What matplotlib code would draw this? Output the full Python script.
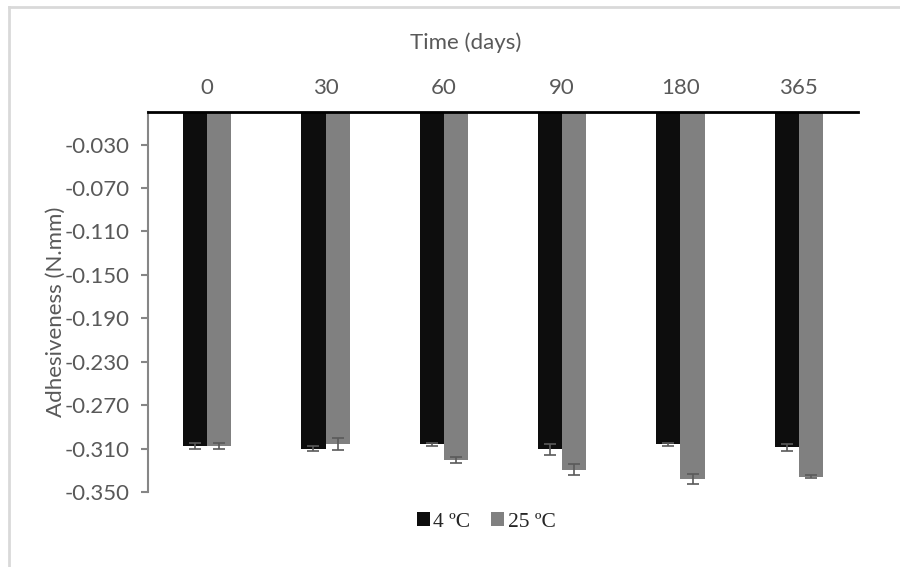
import matplotlib
matplotlib.use("Agg")
import matplotlib.pyplot as plt
from matplotlib.lines import Line2D
from matplotlib.patches import Patch
import numpy as np

# Storage time and adhesiveness measurements
days = ["0", "30", "60", "90", "180", "365"]
adh_4c = [-0.3077, -0.3100, -0.3060, -0.3106, -0.3060, -0.3090]
err_4c = [0.0025, 0.0020, 0.0012, 0.0050, 0.0015, 0.0028]
adh_25c = [-0.3077, -0.3060, -0.3205, -0.3295, -0.3380, -0.3360]
err_25c = [0.0025, 0.0055, 0.0028, 0.0052, 0.0050, 0.0015]
series_names = ["4 \u00baC", "25 \u00baC"]
yticks = [-0.35, -0.31, -0.27, -0.23, -0.19, -0.15, -0.11, -0.07, -0.03]

W, H = 900, 567
fig = plt.figure(figsize=(W / 100, H / 100), dpi=100)
ax = fig.add_axes([148 / W, 1 - 492 / H, (858 - 148) / W, (492 - 112) / H])

txt_color = "#595959"
font = "Lato"
fs = 16
x = np.arange(len(days))
w = 0.203
err_kw = dict(ecolor="#5a5a5a", elinewidth=1.2, capsize=4, capthick=1.2)
ax.bar(x - w / 2, adh_4c, width=w, color="#0d0d0d", yerr=err_4c,
       error_kw=err_kw, zorder=2)
ax.bar(x + w / 2, adh_25c, width=w, color="#808080", yerr=err_25c,
       error_kw=err_kw, zorder=2)

ax.set_xlim(-0.5, len(days) - 0.5)
ax.set_ylim(-0.35, 0.0)

# Category axis sits at the top (value zero)
ax.xaxis.tick_top()
ax.set_xticks(x)
ax.set_xticklabels(days, fontsize=fs, color=txt_color, family=font)
ax.tick_params(axis="x", length=0, pad=10)

ax.set_yticks(yticks)
ax.set_yticklabels([f"{v:.3f}" for v in yticks], fontsize=fs,
                   color=txt_color, family=font)
ax.tick_params(axis="y", direction="out", length=5, width=1.5,
               color="#868686", pad=8)

for s in ["right", "bottom"]:
    ax.spines[s].set_visible(False)
ax.spines["left"].set_color("#868686")
ax.spines["left"].set_linewidth(1.5)
ax.spines["top"].set_color("#000000")
ax.spines["top"].set_linewidth(2)

fig.text(466 / W, 1 - 43 / H, "Time (days)", ha="center", va="center",
         fontsize=fs, color=txt_color, family=font)
fig.text(56 / W, 1 - 312 / H, "Adhesiveness (N.mm)", ha="center",
         va="center", rotation=90, fontsize=fs, color=txt_color,
         family=font)

handles = [Patch(facecolor="#0d0d0d"), Patch(facecolor="#808080")]
fig.legend(handles, series_names, loc="center", ncol=2,
           bbox_to_anchor=(486 / W, 1 - 522 / H), frameon=False,
           prop={"family": "Liberation Serif", "size": 15.5},
           handlelength=0.6, handleheight=0.6, handletextpad=0.15,
           columnspacing=1.0, labelcolor="#262626")

# Light chart-area frame
fig.add_artist(Line2D([9 / W, 9 / W], [0, 1 - 7 / H], color="#d9d9d9",
                      lw=2, transform=fig.transFigure))
fig.add_artist(Line2D([9 / W, 1], [1 - 7 / H, 1 - 7 / H], color="#d9d9d9",
                      lw=2, transform=fig.transFigure))

fig.savefig("out.png", dpi=100, facecolor="white")
